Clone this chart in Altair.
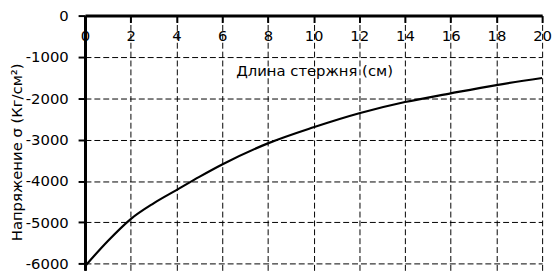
import altair as alt
import pandas as pd

length_cm = [0, 1, 2, 3, 4, 5, 6, 8, 10, 12, 14, 16, 18, 20]
stress = [-6060, -5450, -4920, -4540, -4220, -3900, -3600, -3090, -2700, -2360, -2090, -1880, -1680, -1510]

x_ticks = [0, 2, 4, 6, 8, 10, 12, 14, 16, 18, 20]
y_ticks = [-6000, -5000, -4000, -3000, -2000, -1000, 0]

df = pd.DataFrame({"x": length_cm, "y": stress})

FONT = "DejaVu Sans"
H = 258

chart = alt.Chart(df).mark_line(color="black", strokeWidth=2.2, interpolate="monotone").encode(
    x=alt.X(
        "x:Q",
        scale=alt.Scale(domain=[0, 20], nice=False, zero=False),
        axis=alt.Axis(
            orient="bottom",
            offset=-H,
            values=x_ticks,
            title="Длина стержня (см)",
            titleX=232,
            titleY=56,
            titleAlign="center",
            titleBaseline="middle",
            titleFontWeight="normal",
            titleFontSize=15,
            titleFont=FONT,
            titleColor="black",
            labelFont=FONT,
            labelFontSize=15,
            labelColor="black",
            labelPadding=6,
            labelFlush=False,
            labelOverlap=False,
            domainColor="black",
            domainWidth=3,
            tickColor="black",
            tickWidth=2,
            tickSize=7,
            grid=True,
            gridColor="black",
            gridDash=[6, 3],
            gridWidth=1,
        ),
    ),
    y=alt.Y(
        "y:Q",
        scale=alt.Scale(domain=[-6160, 0], nice=False, zero=False),
        axis=alt.Axis(
            values=y_ticks,
            labelExpr="'' + datum.value",
            title="Напряжение σ (Кг/см²)",
            titleX=-69,
            titleY=138,
            titleAngle=-90,
            titleAlign="center",
            titleBaseline="middle",
            titleFontWeight="normal",
            titleFontSize=15,
            titleFont=FONT,
            titleColor="black",
            labelFont=FONT,
            labelFontSize=15,
            labelColor="black",
            labelPadding=10,
            labelFlush=False,
            labelOverlap=False,
            domainColor="black",
            domainWidth=3,
            tickColor="black",
            tickWidth=2,
            tickSize=7,
            grid=True,
            gridColor="black",
            gridDash=[6, 3],
            gridWidth=1,
        ),
    ),
).properties(
    width=463,
    height=H,
    autosize="none",
    padding={"left": 78, "top": 6, "right": 10, "bottom": 0},
    background="white",
).configure_view(stroke=None)

chart.save("out.html", embed_options={"renderer": "svg", "actions": False})
